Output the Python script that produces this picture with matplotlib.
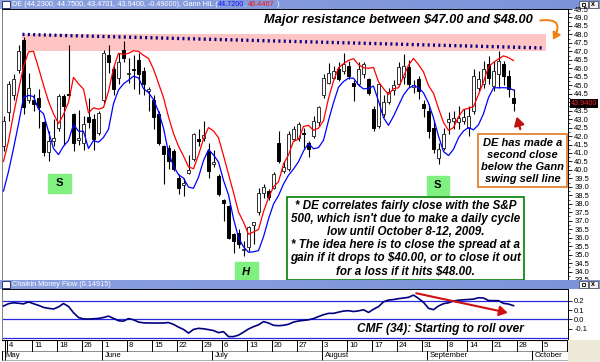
import numpy as np
import pandas as pd
import matplotlib
matplotlib.use('Agg')
import matplotlib.pyplot as plt
from matplotlib.patches import FancyArrowPatch
from matplotlib.ticker import MultipleLocator, FormatStrFormatter, FuncFormatter

plt.rcParams['font.family'] = ['Liberation Sans', 'DejaVu Sans']

# trading days, three April days first so the Gann HiLo lines start on May 1
holidays = ['2009-05-25', '2009-07-03', '2009-09-07']
days = pd.bdate_range('2009-04-28', '2009-10-16')
days = days[~days.isin(pd.to_datetime(holidays))]
n_pre = 3

opens = [38.0, 39.2, 40.3,
         41.4, 43.4, 44.4, 45.9, 47.65, 44.1, 44.15, 44.25, 42.8, 41.05,
         41.7, 42.5, 44.35, 44.5, 43.3, 41.75, 41.6, 43.1, 43.0, 42.2,
         44.1, 46.8, 45.95, 45.45, 47.1, 45.65, 45.95, 46.5, 45.85, 44.65,
         44.15, 43.3, 41.4, 41.3, 41.1, 39.55, 39.1, 39.8, 40.65, 41.8,
         41.9, 41.1, 40.35, 39.65, 38.2, 37.85, 36.2, 36.3, 35.3, 35.45,
         36.75, 37.5, 38.65, 38.75, 38.95, 41.6, 39.95, 40.05, 41.8, 41.9,
         42.2, 41.6, 42.0, 42.8, 44.4, 45.15, 45.45, 45.95, 45.85, 46.15,
         45.15, 45.05, 45.65, 45.35, 43.6, 42.6, 43.3, 44.0, 44.7, 45.1,
         45.5, 46.05, 44.9, 45.35, 43.9, 43.5, 42.5, 40.7, 41.3, 42.8,
         42.9, 42.8, 42.9, 42.5, 43.5, 44.85, 45.1, 46.25, 44.95, 45.65,
         46.25, 45.55, 44.23]
highs = [39.6, 40.5, 41.4,
         43.2, 45.25, 45.65, 47.4, 47.85, 45.75, 44.5, 44.75, 42.9, 42.3,
         43.0, 44.5, 44.5, 47.4, 43.35, 43.55, 43.2, 44.25, 43.3, 43.5,
         47.1, 47.4, 46.15, 46.9, 47.6, 46.6, 46.8, 46.9, 46.05, 44.9,
         44.4, 43.5, 41.5, 41.45, 41.25, 39.75, 39.55, 40.9, 42.2, 42.4,
         42.9, 41.6, 41.2, 39.75, 38.3, 37.95, 36.3, 36.5, 35.8, 36.7,
         36.95, 38.95, 39.15, 38.9, 39.85, 42.3, 40.5, 42.3, 42.6, 42.8,
         42.5, 41.7, 43.2, 43.8, 45.65, 46.3, 46.15, 46.35, 46.9, 46.45,
         45.3, 46.35, 46.35, 45.45, 43.8, 45.15, 44.4, 44.85, 45.3, 46.4,
         46.85, 46.5, 45.3, 45.55, 44.1, 43.9, 42.9, 41.6, 42.5, 43.4,
         43.5, 43.8, 43.6, 43.8, 45.95, 45.85, 46.45, 46.75, 46.45, 47.0,
         46.45, 45.9, 44.75]
lows = [37.65, 38.8, 39.8,
        41.1, 42.9, 44.15, 45.75, 43.3, 43.95, 43.5, 42.5, 40.8, 40.5,
        41.4, 42.3, 41.5, 44.25, 41.1, 41.5, 41.2, 42.5, 41.2, 42.05,
        43.95, 45.75, 44.45, 45.05, 46.4, 45.15, 44.75, 44.5, 44.45, 43.5,
        42.4, 41.5, 39.15, 40.05, 39.95, 38.55, 38.45, 39.75, 40.5, 41.4,
        41.7, 39.55, 40.15, 38.45, 37.0, 35.9, 35.1, 35.4, 34.9, 35.2,
        35.6, 37.35, 38.35, 38.25, 38.85, 40.4, 39.8, 39.95, 41.7, 41.7,
        41.3, 40.75, 41.9, 42.6, 44.25, 45.05, 45.35, 45.25, 45.65, 45.35,
        44.05, 44.95, 45.45, 44.45, 42.3, 42.5, 43.1, 43.9, 44.4, 44.95,
        45.1, 44.9, 44.55, 44.2, 43.1, 41.9, 41.0, 40.35, 41.2, 42.1,
        42.4, 42.4, 42.7, 42.0, 43.3, 44.65, 44.85, 45.05, 44.65, 44.86,
        45.0, 44.3, 43.47]
closes = [39.4, 40.2, 40.0,
          42.9, 45.05, 45.35, 47.0, 43.7, 44.85, 43.9, 43.7, 41.05, 41.7,
          41.9, 44.35, 43.8, 44.4, 41.6, 41.87, 42.7, 42.8, 41.8, 43.38,
          46.9, 46.35, 44.75, 46.35, 46.6, 45.75, 45.9, 45.65, 45.05, 44.75,
          43.1, 41.6, 40.95, 40.55, 40.05, 38.95, 39.25, 40.0, 42.1, 41.7,
          42.05, 39.95, 40.45, 38.55, 38.05, 36.0, 35.8, 35.6, 35.35, 36.6,
          36.9, 38.65, 39.0, 38.4, 39.75, 40.55, 40.15, 42.1, 42.4, 42.7,
          42.1, 41.25, 42.9, 43.7, 45.45, 45.75, 45.85, 45.35, 46.25, 45.55,
          44.95, 45.95, 46.25, 44.55, 42.5, 45.05, 44.0, 44.6, 45.0, 46.1,
          46.15, 45.1, 45.0, 44.65, 43.65, 42.3, 41.25, 41.25, 42.1, 43.0,
          43.05, 43.05, 43.1, 43.2, 45.55, 45.35, 45.95, 45.45, 45.85, 46.45,
          45.55, 44.8, 43.94]

cmf = [0.145, 0.17, 0.18, 0.175, 0.168, 0.19, 0.17, 0.152, 0.13, 0.12,
       0.112, 0.135, 0.172, 0.14, 0.072, 0.02, 0.004, 0.003, 0.006, 0.01,
       0.02, 0.035, 0.01, -0.015, -0.02, 0.008, -0.005, -0.03, -0.038, -0.04,
       -0.04, -0.04, -0.04, -0.035, -0.055, -0.085, -0.11, -0.15, -0.11, -0.098,
       -0.103, -0.112, -0.122, -0.145, -0.134, -0.188, -0.188, -0.172, -0.14, -0.105,
       -0.08, -0.06, -0.025, -0.04, -0.065, -0.069, -0.065, -0.054, -0.03, -0.018,
       -0.012, -0.005, 0.008, 0.03, 0.05, 0.065, 0.065, 0.078, 0.09, 0.094,
       0.085, 0.092, 0.104, 0.075, 0.11, 0.138, 0.19, 0.21, 0.215, 0.225,
       0.232, 0.239, 0.264, 0.228, 0.185, 0.12, 0.105, 0.145, 0.17, 0.18,
       0.2, 0.208, 0.212, 0.216, 0.22, 0.235, 0.232, 0.205, 0.203, 0.203,
       0.174, 0.166, 0.149]

band_low, band_high = 47.0, 48.0
resist_x = [3.8, 108.0]
resist_y = [48.0, 47.2]

nbar = len(closes)
xs = np.arange(nbar) - n_pre
df = pd.DataFrame({'o': opens, 'h': highs, 'l': lows, 'c': closes}, index=xs)
# Gann HiLo: 3 day average of highs and lows, one day back
df['hi_line'] = df['h'].rolling(3).mean().shift(1)
df['lo_line'] = df['l'].rolling(3).mean().shift(1)
df = df.loc[0:]
all_x = np.arange(len(days)) - n_pre
date_of = dict(zip(all_x, days))

fig = plt.figure(figsize=(6, 3.62), dpi=100)
W, H = 600.0, 362.0
XL = (-0.3, 112.9)


def px_axes(x0, y0, x1, y1):
    return fig.add_axes([x0 / W, 1 - y1 / H, (x1 - x0) / W, (y1 - y0) / H])


def title_bar(y0, y1):
    bar = px_axes(0, y0, 600, y1)
    bar.set_xlim(0, 600)
    bar.set_ylim(0, 1)
    bar.axis('off')
    bar.imshow(np.linspace(0, 1, 50).reshape(1, -1), cmap=matplotlib.colors.LinearSegmentedColormap.from_list(
        'tb', ['#8aa0e0', '#7c93d8']), extent=(0, 600, 0, 1), aspect='auto')
    bar.add_patch(plt.Rectangle((2, 0.15), 8, 0.7, facecolor='white', edgecolor='#202060', lw=0.6))
    for bx, sym in [(579, ''), (589, 'x')]:
        bar.add_patch(plt.Rectangle((bx, 0.1), 8.5, 0.8, facecolor='#f0f0f0', edgecolor='#404040', lw=0.5))
        bar.text(bx + 4.2, 0.45, sym, ha='center', va='center', fontsize=5, fontweight='bold')
    bar.add_patch(plt.Rectangle((581.5, 0.3), 3.5, 0.4, facecolor='none', edgecolor='black', lw=0.6))
    return bar


def colored_text(ax, x, y, parts, **kw):
    t = None
    for s, col in parts:
        if t is None:
            t = ax.text(x, y, s, color=col, va='center', **kw)
        else:
            t = ax.annotate(s, xycoords=t, xy=(1, 0), va='bottom', color=col, **kw)
    return t


fig.patch.set_facecolor('white')

# top title bar
tb1 = title_bar(0, 9)
colored_text(tb1, 12, 0.45, [('DE (44.2300, 44.7500, 43.4701, 43.9400, -0.49000), Gann HiL (', 'white'),
                             ('44.7200', '#1010ff'), (', ', 'white'), ('46.4467', '#ff1010'), (' )', 'white')],
             fontsize=5.2)

# price panel
ax = px_axes(2, 9, 568, 280)
ax.set_xlim(*XL)
ax.set_ylim(33.5, 49.5)
ax.axhspan(band_low, band_high, xmin=(3.8 - XL[0]) / (XL[1] - XL[0]), xmax=(108.5 - XL[0]) / (XL[1] - XL[0]),
           facecolor='#ffc4c4', edgecolor='none', zorder=0)
ax.plot(resist_x, resist_y, color='#000080', lw=2.4, ls=(0, (0.6, 1.0)), zorder=1)

up = df['c'] >= df['o']
ax.vlines(df.index, df['l'], df['h'], color='black', lw=0.8, zorder=2)
ax.bar(df.index[up], (df['c'] - df['o'])[up], bottom=df['o'][up], width=0.62,
       facecolor='white', edgecolor='#303030', lw=0.7, zorder=3)
ax.bar(df.index[~up], (df['o'] - df['c'])[~up], bottom=df['c'][~up], width=0.62,
       facecolor='black', edgecolor='black', lw=0.7, zorder=3)
ax.plot(df.index, df['hi_line'], color='#ff0000', lw=0.9, zorder=4)
ax.plot(df.index, df['lo_line'], color='#0000ff', lw=0.9, zorder=4)

last = df['c'].iloc[-1]
ax.yaxis.tick_right()
ax.yaxis.set_major_locator(MultipleLocator(0.5))
ax.yaxis.set_minor_locator(MultipleLocator(0.25))
# the last-price box covers the label nearest to it
ax.yaxis.set_major_formatter(FuncFormatter(lambda v, p: '' if abs(v - last) < 0.2 else '%.1f' % v))
ax.tick_params(axis='y', labelsize=5.5, length=3, width=0.6, pad=1.5)
ax.tick_params(axis='y', which='minor', length=1.5, width=0.5)
ax.set_xticks([])
for s in ax.spines.values():
    s.set_linewidth(0.7)
ax.spines['left'].set_color('#808080')

ax.text(1.005, last, '%.4f' % last, transform=ax.get_yaxis_transform(), color='#ff2020',
        fontsize=5.2, va='center', ha='left', bbox=dict(facecolor='black', edgecolor='none', pad=0.6))

for lx, ly, lab, sty in [(11.2, 39.2, ' S ', 'normal'), (48.6, 34.0, ' H ', 'italic'),
                         (86.9, 39.1, ' S ', 'normal')]:
    ax.text(lx, ly, lab, ha='center', va='center', fontsize=8, fontweight='bold', style=sty,
            bbox=dict(boxstyle='square,pad=0.4', facecolor='#80f080', edgecolor='#80f080'))

ax.text(79.0, 48.85, 'Major resistance between \\$47.00 and \\$48.00', fontsize=9.3, fontweight='bold',
        style='italic', ha='center', va='center')
ax.add_patch(FancyArrowPatch((106.8, 48.8), (109.6, 47.55), connectionstyle='arc3,rad=-1.1',
                             arrowstyle='-|>,head_length=4,head_width=2.5', color='#f08010', lw=1.4,
                             mutation_scale=1, zorder=6))

ax.text(103.8, 40.55, 'DE has made a\nsecond close\nbelow the Gann\nswing sell line', fontsize=8,
        fontweight='bold', style='italic', ha='center', va='center', linespacing=1.25,
        bbox=dict(boxstyle='square,pad=0.3', facecolor='white', edgecolor='#e07820', lw=1.2), zorder=6)
ax.add_patch(FancyArrowPatch((103.5, 42.25), (102.5, 43.3), arrowstyle='-|>,head_length=5,head_width=3',
                             color='#c01010', lw=1.6, mutation_scale=1, zorder=6))

ax.text(80.4, 35.95, '* DE correlates fairly close with the S&P\n500, which isn\'t due to make a daily cycle\n'
        'low until October 8-12, 2009.\n* The idea here is to close the spread at a\n'
        'gain if it drops to \\$40.00, or to close it out\nfor a loss if it hits \\$48.00.',
        fontsize=8.4, fontweight='bold', style='italic', ha='center', va='center', linespacing=1.13,
        bbox=dict(boxstyle='square,pad=0.25', facecolor='white', edgecolor='#008000', lw=1.2), zorder=6)

# second title bar
tb2 = title_bar(280, 289)
colored_text(tb2, 12, 0.45, [('Chaikin Money Flow (0.14915)', 'white')], fontsize=5.2)

# CMF panel
ax2 = px_axes(2, 289, 568, 340)
ax2.set_xlim(*XL)
ax2.set_ylim(-0.225, 0.33)
for lv in [0.2, 0.0, -0.2]:
    ax2.axhline(lv, color='#2828e0', lw=0.9, zorder=1)
ax2.plot(np.arange(len(cmf)), cmf, color='#000080', lw=1.2, zorder=3)
ax2.yaxis.tick_right()
ax2.set_yticks([0.2, 0.1, 0.0, -0.1])
ax2.yaxis.set_major_formatter(FormatStrFormatter('%.1f'))
ax2.tick_params(axis='y', labelsize=5.5, length=3, width=0.6, pad=1.5)
ax2.set_xticks([])
for s in ax2.spines.values():
    s.set_linewidth(0.7)
ax2.spines['left'].set_color('#808080')
ax2.text(87.4, -0.1, 'CMF (34): Starting to roll over', fontsize=8.6, fontweight='bold', style='italic',
         ha='center', va='center', zorder=5)
ax2.add_patch(FancyArrowPatch((82.0, 0.29), (101.4, 0.065), arrowstyle='-|>,head_length=5,head_width=3',
                              color='#d01010', lw=1.5, mutation_scale=1, zorder=5))

# date strip
ax3 = px_axes(2, 340, 568, 361)
ax3.set_xlim(*XL)
ax3.set_ylim(0, 2)
ax3.axis('off')
ax3.axhline(2, color='black', lw=0.8)
ax3.axhline(1, color='#606060', lw=0.5)
fig.add_artist(plt.Rectangle((568 / W, 0), 32 / W, 22 / H, transform=fig.transFigure,
                             facecolor='#ece9d8', edgecolor='none'))
prev = None
for i in all_x[all_x >= 0]:
    d = date_of[i]
    if prev is None:
        ax3.plot([i + 0.2, i + 0.2], [0.05, 2], color='black', lw=0.7)
    elif d.weekday() < prev.weekday():
        ax3.plot([i - 0.3, i - 0.3], [1, 2], color='black', lw=0.7)
        ax3.text(i + 0.1, 1.5, str(d.day), fontsize=5.6, va='center', ha='left')
    if prev is None or d.month != prev.month:
        ax3.plot([i - 0.3, i - 0.3], [0.05, 1], color='black', lw=0.7)
        ax3.text(i + 0.3, 0.52, d.strftime('%B'), fontsize=5.6, va='center', ha='left')
    prev = d
ax3.plot([XL[0], XL[1]], [0.05, 0.05], color='#909090', lw=0.5)

fig.savefig('out.png', dpi=100)
